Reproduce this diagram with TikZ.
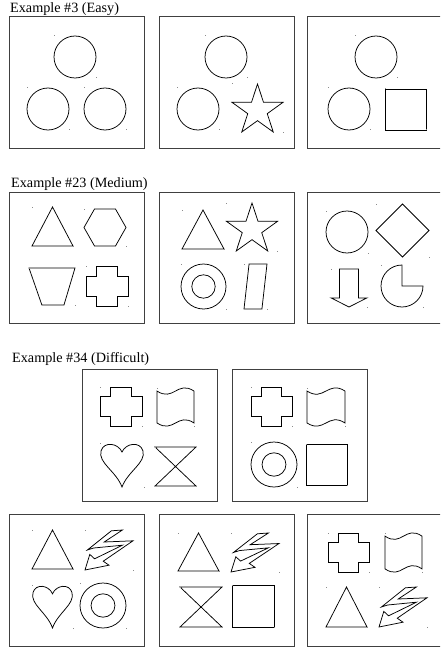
\documentclass[tikz,border=0pt]{standalone}
\usepackage{fontspec}
\setmainfont{Liberation Serif}
\begin{document}
\begin{tikzpicture}[x=1pt,y=-1pt,
  panel/.style={draw=black!75,line width=0.9pt},
  shapeline/.style={draw=black,line width=0.75pt,line join=miter},
  bbdot/.style={fill=black!45},
  title/.style={anchor=base west,inner sep=0pt,font=\fontsize{14.2}{16}\selectfont},
  circshape/.pic={\draw[shapeline] (0.5,0.5) circle (0.5);},
  ringshape/.pic={\draw[shapeline] (0.5,0.5) circle (0.5) (0.5,0.5) circle (0.26);},
  squareshape/.pic={\draw[shapeline] (0,0) rectangle (1,1);},
  triangleshape/.pic={\draw[shapeline] (0,1) -- (0.5,0) -- (1,1) -- cycle;},
  diamondshape/.pic={\draw[shapeline] (0,0.5) -- (0.5,0) -- (1,0.5) -- (0.5,1) -- cycle;},
  hexshape/.pic={\draw[shapeline] (0,0.5) -- (0.25,0) -- (0.75,0) -- (1,0.5) -- (0.75,1) -- (0.25,1) -- cycle;},
  trapshape/.pic={\draw[shapeline] (0,0) -- (1,0) -- (0.76,1) -- (0.28,1) -- cycle;},
  parashape/.pic={\draw[shapeline] (0.22,0) -- (1,0) -- (0.78,1) -- (0,1) -- cycle;},
  hourshape/.pic={\draw[shapeline] (0,0) -- (1,0) -- (0,1) -- (1,1) -- cycle;},
  crossshape/.pic={\draw[shapeline] (0.25,0) -- (0.75,0) -- (0.75,0.25) -- (1,0.25) -- (1,0.75) -- (0.75,0.75) -- (0.75,1) -- (0.25,1) -- (0.25,0.75) -- (0,0.75) -- (0,0.25) -- (0.25,0.25) -- cycle;},
  arrowshape/.pic={\draw[shapeline] (0.235,0) -- (0.765,0) -- (0.765,0.76) -- (1,0.76) -- (0.5,1) -- (0,0.76) -- (0.235,0.76) -- cycle;},
  pacshape/.pic={\draw[shapeline] (0.5,0.5) -- (0.5,0) arc[start angle=270,end angle=0,radius=0.5] -- cycle;},
  flagshape/.pic={\draw[shapeline] (0,0.08) .. controls (0.45,0.37) and (0.55,-0.21) .. (1,0.08) -- (1,0.92) .. controls (0.55,0.63) and (0.45,1.21) .. (0,0.92) -- cycle;},
  heartshape/.pic={\draw[shapeline] (0.5,0.205) .. controls (0.59,0) and (0.91,-0.045) .. (0.977,0.18) .. controls (1.045,0.455) and (0.636,0.636) .. (0.5,1) .. controls (0.364,0.636) and (-0.045,0.455) .. (0.023,0.18) .. controls (0.09,-0.045) and (0.41,0) .. (0.5,0.205) -- cycle;},
  boltshape/.pic={\draw[shapeline] (0.05,0.50) -- (0.55,0.02) -- (0.78,0.0) -- (0.40,0.30) -- (1.0,0.27) -- (0.38,0.78) -- (0.50,0.88) -- (0.0,1.0) -- (0.10,0.61) -- (0.20,0.72) -- (0.78,0.38) -- (0.18,0.45) -- cycle;},
  starshape/.pic={\draw[shapeline,shift={(0.5,0.5528)},xscale=0.5257,yscale=0.5528] (270:1) -- (306:0.382) -- (342:1) -- (18:0.382) -- (54:1) -- (90:0.382) -- (126:1) -- (162:0.382) -- (198:1) -- (234:0.382) -- cycle;}
]
\newcommand\shp[5]{%
  \pic[xscale=#4,yscale=#5] at (#2,#3) {#1};
  \fill[bbdot] ({#2-0.5},{#3-0.5}) rectangle ++(1,1);
  \fill[bbdot] ({#2+#4-0.5},{#3+#5-0.5}) rectangle ++(1,1);}
\useasboundingbox (0,0) rectangle (440,650);
\clip (0,0) rectangle (440,650);

% ---------- Example #3 ----------
\node[title] (t1) at (10,13) {Example \#3 (Easy)};
\draw[panel] (9,16) rectangle (144,148);
\draw[panel] (159,16) rectangle (294,148);
\draw[panel] (307,16) rectangle (442,148);
\shp{circshape}{54}{36}{42}{42}
\shp{circshape}{27}{88}{42}{42}
\shp{circshape}{84}{88}{42}{42}
\shp{circshape}{205}{36}{42}{42}
\shp{circshape}{177}{88}{42}{42}
\shp{starshape}{232}{84}{51}{48}
\shp{circshape}{355}{36}{42}{42}
\shp{circshape}{328}{88}{42}{42}
\shp{squareshape}{385}{89}{41}{41}

% ---------- Example #23 ----------
\node[title] (t2) at (11,187) {Example \#23 (Medium)};
\draw[panel] (9,192) rectangle (144,323);
\draw[panel] (159,192) rectangle (294,323);
\draw[panel] (307,192) rectangle (442,323);
\shp{triangleshape}{32}{207}{41}{39}
\shp{hexshape}{84}{209}{42}{37}
\shp{trapshape}{29}{268}{46}{37}
\shp{crossshape}{86}{266}{42}{40}
\shp{triangleshape}{182}{210}{42}{39}
\shp{starshape}{226.5}{203}{51}{48}
\shp{ringshape}{181}{264}{45}{45}
\shp{parashape}{244}{264}{23}{45}
\shp{circshape}{326}{211}{42}{42}
\shp{diamondshape}{376}{204}{53}{53}
\shp{arrowshape}{331}{269}{36}{38}
\shp{pacshape}{381}{265}{42}{42}

% ---------- Example #34 ----------
\node[title] (t3) at (12,362) {Example \#34 (Difficult)};
\draw[panel] (82,369) rectangle (217,501);
\draw[panel] (232,369) rectangle (367,501);
\shp{crossshape}{100}{387}{42}{39}
\shp{flagshape}{157}{388}{37}{38}
\shp{heartshape}{100}{443}{44}{44}
\shp{hourshape}{155}{447}{41}{39}
\shp{crossshape}{251}{387}{41}{39}
\shp{flagshape}{307}{388}{38}{38}
\shp{ringshape}{251}{442}{46}{45}
\shp{squareshape}{306}{444}{41}{41}

\draw[panel] (9,514) rectangle (144,646);
\draw[panel] (159,514) rectangle (294,646);
\draw[panel] (307,514) rectangle (442,646);
\shp{triangleshape}{32}{530}{41}{39}
\shp{boltshape}{85}{530}{48}{40}
\shp{heartshape}{32}{585}{41}{43}
\shp{ringshape}{80}{583}{46}{45}
\shp{triangleshape}{178}{533}{41}{38}
\shp{boltshape}{231}{533}{48}{39}
\shp{hourshape}{180}{587}{42}{40}
\shp{squareshape}{232}{585}{42}{42}
\shp{crossshape}{328}{533}{41}{39}
\shp{flagshape}{385}{533}{37}{39}
\shp{triangleshape}{326}{587}{41}{40}
\shp{boltshape}{379}{587}{48}{40}
\end{tikzpicture}
\end{document}
